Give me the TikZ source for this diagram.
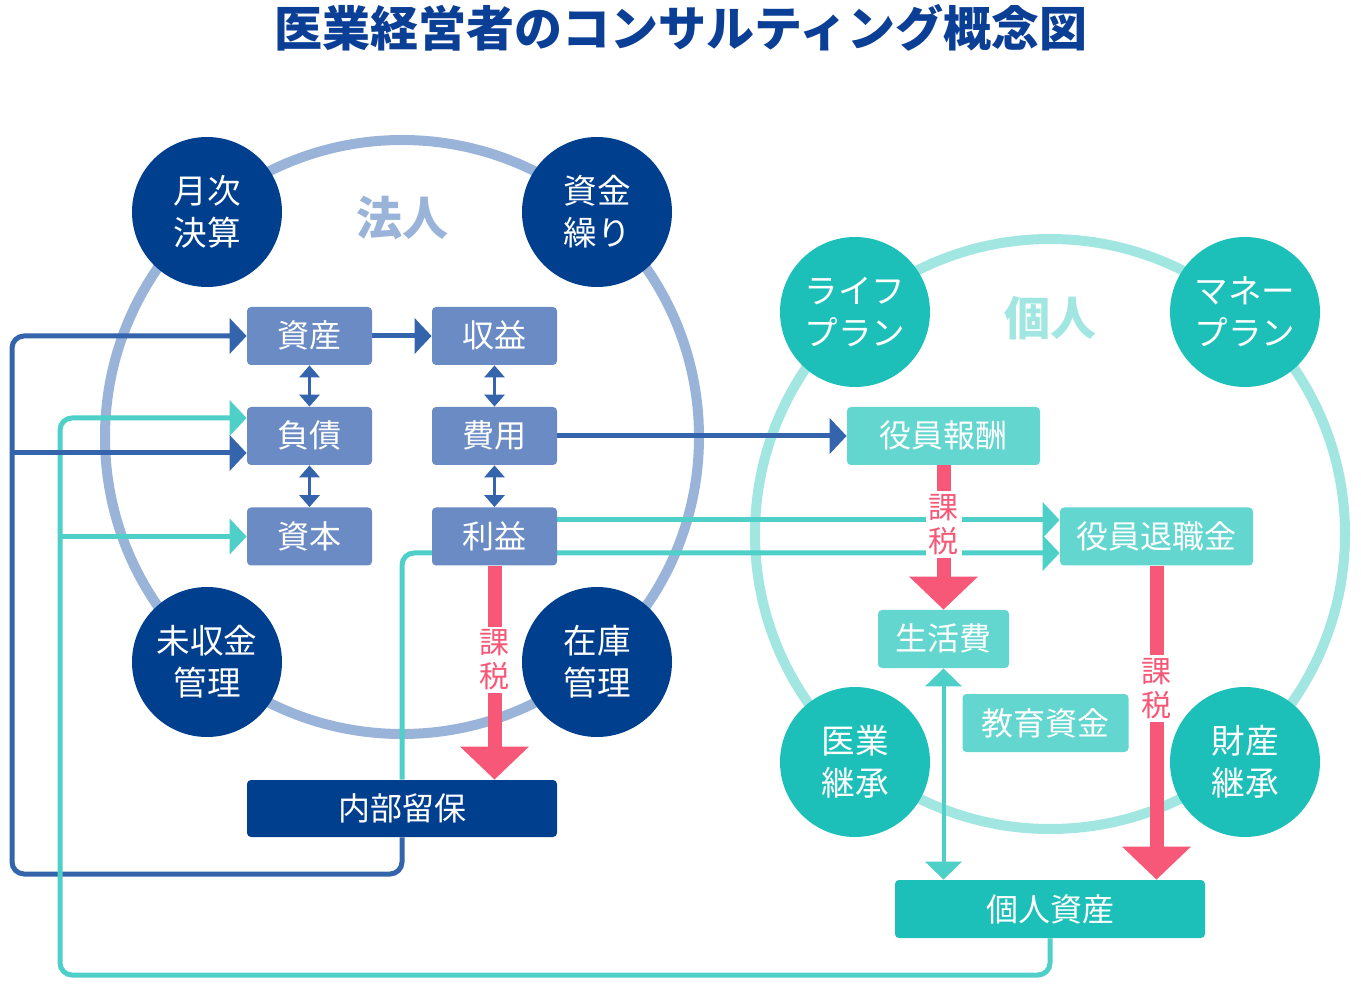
\documentclass[tikz,border=0pt]{standalone}
\usepackage{fontspec}
\setmainfont{Noto Sans CJK JP}
\usetikzlibrary{arrows.meta,calc}
\pgfdeclarelayer{bg}
\pgfdeclarelayer{lines}
\pgfsetlayers{bg,lines,main}
\definecolor{navy}{HTML}{003F8E}
\definecolor{boxblue}{HTML}{6A8BC3}
\definecolor{ringblue}{HTML}{9AB4D9}
\definecolor{lineblue}{HTML}{3464AC}
\definecolor{tealc}{HTML}{1DC0B8}
\definecolor{tealbox}{HTML}{62D6CF}
\definecolor{ringteal}{HTML}{A2E6E1}
\definecolor{tealline}{HTML}{4ECFC8}
\definecolor{taxred}{HTML}{F75877}
\definecolor{titleblue}{HTML}{0B3F95}
\tikzset{
  boxbase/.style={rectangle, rounded corners=2pt, text=white, inner sep=0pt,
    font=\fontsize{16pt}{19pt}\selectfont, minimum height=29pt,
    text height=14pt, text depth=2pt},
  lbox/.style={boxbase, fill=boxblue, minimum width=62.5pt},
  tbox/.style={boxbase, fill=tealbox},
  circbase/.style={circle, minimum size=75pt, inner sep=0pt, text=white, align=center,
    font=\fontsize{16.8pt}{21pt}\selectfont},
  dcirc/.style={circbase, fill=navy},
  tcirc/.style={circbase, fill=tealc},
  ring/.style={circle, minimum size=297pt, inner sep=0pt, line width=5pt},
  bline/.style={draw=lineblue, line width=2.5pt, -{Triangle[width=17.5pt,length=8.5pt]}, fill=none},
  tline/.style={draw=tealline, line width=2.5pt, -{Triangle[width=17.5pt,length=8.5pt]}, fill=none},
  sdbl/.style={draw=lineblue, line width=1.8pt, {Triangle[width=10pt,length=6pt]}-{Triangle[width=10pt,length=6pt]}},
  tdbl/.style={draw=tealline, line width=2pt, {Triangle[width=18pt,length=9pt]}-{Triangle[width=18pt,length=9pt]}},
  redarrow/.style={draw=taxred, line width=7pt, -{Triangle[width=33.5pt,length=16.5pt]}},
  taxlabel/.style={fill=white, text=taxred, align=center, inner sep=1.5pt,
    font=\fontsize{15pt}{17pt}\selectfont},
}
\begin{document}
\begin{tikzpicture}[x=0.5pt,y=-0.5pt]
\useasboundingbox (0,0) rectangle (1361,989);

\node[text=titleblue, font=\fontsize{24pt}{28pt}\selectfont\bfseries] (title) at (681,28) {医業経営者のコンサルティング概念図};

\begin{pgfonlayer}{bg}
\node[ring, draw=ringblue] (ringL) at (402,437) {};
\node[ring, draw=ringteal, minimum size=295pt] (ringR) at (1050,534) {};
\end{pgfonlayer}

\node[text=ringblue, font=\fontsize{23pt}{26pt}\selectfont\bfseries] (houjin) at (402,218) {法人};
\node[text=ringteal, font=\fontsize{23pt}{26pt}\selectfont\bfseries] (kojin) at (1050,318) {個人};

\node[dcirc] (c1) at (207,212) {月次\\決算};
\node[dcirc] (c2) at (597,212) {資金\\繰り};
\node[dcirc] (c3) at (207,662) {未収金\\管理};
\node[dcirc] (c4) at (597,662) {在庫\\管理};
\node[tcirc] (c5) at (855,312) {ライフ\\プラン};
\node[tcirc] (c6) at (1245,312) {マネー\\プラン};
\node[tcirc] (c7) at (855,762) {医業\\継承};
\node[tcirc] (c8) at (1245,762) {財産\\継承};

\node[lbox] (shisan) at (309.5,336) {資産};
\node[lbox] (fusai) at (309.5,436) {負債};
\node[lbox] (shihon) at (309.5,536.5) {資本};
\node[lbox] (shueki) at (494.5,336) {収益};
\node[lbox] (hiyou) at (494.5,436) {費用};
\node[lbox] (rieki) at (494.5,536.5) {利益};
\node[boxbase, fill=navy, minimum width=155pt, minimum height=28.5pt] (naibu) at (402,808.5) {内部留保};

\node[tbox, minimum width=96.5pt] (yakuin) at (943.5,436) {役員報酬};
\node[tbox, minimum width=96.5pt] (taishoku) at (1156.5,536.5) {役員退職金};
\node[tbox, minimum width=65.5pt] (seikatsu) at (943.5,639) {生活費};
\node[tbox, minimum width=83pt] (kyoiku) at (1045.5,723) {教育資金};
\node[boxbase, fill=tealc, minimum width=155pt] (kshisan) at (1050,909) {個人資産};

\coordinate (bA) at (12,336);
\coordinate (bB) at (12,453);
\coordinate (bC) at (12,874);
\coordinate (bD) at (402,874);
\coordinate (tA) at (60,418);
\coordinate (tB) at (60,536.5);
\coordinate (tC) at (60,975);
\coordinate (tD) at (1050,975);
\coordinate (r1) at (557,520);
\coordinate (r2) at (402,553);

\begin{pgfonlayer}{lines}
% blue loop from 内部留保 to 資産
\draw[bline, rounded corners=6pt] (naibu.south) -- (bD) -- (bC) -- (bA) -- (shisan.west);
% teal loop from 個人資産 to 負債
\draw[tline, rounded corners=6pt] (kshisan.south) -- (tD) -- (tC) -- (tA) -- (tA -| fusai.west);
\draw[tline] (tB) -- (shihon.west);
% blue branch to 負債
\draw[bline] (bB) -- (bB -| fusai.west);
% 利益 to 役員退職金
\draw[tline] (r1 -| rieki.east) -- (r1 -| taishoku.west);
\draw[tline, rounded corners=6pt] (naibu.north) -- (r2) -- (r2 -| taishoku.west);
% blue flows
\draw[bline] (shisan.east) -- (shueki.west);
\draw[bline] (hiyou.east) -- (yakuin.west);
% small double arrows
\draw[sdbl] (shisan.south) -- (fusai.north);
\draw[sdbl] (fusai.south) -- (shihon.north);
\draw[sdbl] (shueki.south) -- (hiyou.north);
\draw[sdbl] (hiyou.south) -- (rieki.north);
% 生活費 <-> 個人資産
\draw[tdbl] (seikatsu.south) -- (seikatsu.south |- kshisan.north);
\end{pgfonlayer}

% taxation arrows
\draw[redarrow] (rieki.south) -- (rieki.south |- naibu.north) node[taxlabel, pos=0.44] (tax1) {課\\税};
\draw[redarrow] (yakuin.south) -- (seikatsu.north) node[taxlabel, pos=0.41] (tax2) {課\\税};
\draw[redarrow] (taishoku.south) -- (taishoku.south |- kshisan.north) node[taxlabel, pos=0.39] (tax3) {課\\税};
\end{tikzpicture}
\end{document}
